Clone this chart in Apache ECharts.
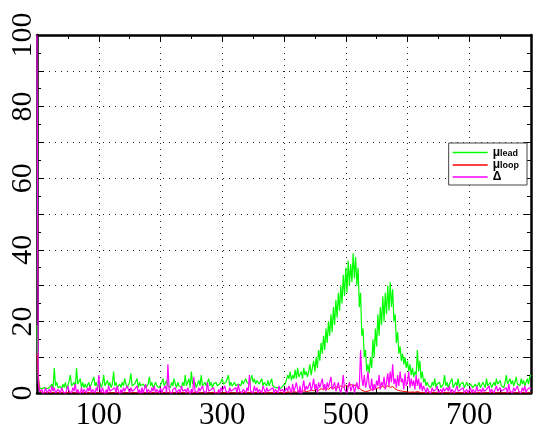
<!DOCTYPE html>
<html>
<head>
<meta charset="utf-8">
<script src="https://cdn.jsdelivr.net/npm/echarts@6/dist/echarts.min.js"></script>
<style>
  html, body { margin: 0; padding: 0; background: #fff; }
  #chart { width: 534px; height: 431px; }
</style>
</head>
<body>
<div id="chart"></div>
<script>
// Sampling steps along the x axis
const leadStep = 2;
const loopStep = 4;
const deltaStep = 2;

// mu_lead, one value every 2 units from 0 to 800
const muLead = [
  19, 4, 1.5, 1, 1.2, 1, 1.5, 1, 1.2, 1,
  1.5, 1, 2.5, 1.2, 7, 2, 3, 1.5, 1.2, 1.8,
  1, 2.5, 1.5, 3, 1.2, 2, 1.5, 5, 2, 1.5,
  3, 1.5, 7, 2.5, 2, 4, 1.5, 3, 1.5, 2.5,
  1.5, 2, 3, 1.5, 2.5, 2, 4.5, 2, 3, 1.5,
  2, 3, 1.5, 2.5, 5, 2, 1.5, 3.5, 2, 3,
  1.5, 2.5, 6, 2, 3, 1.5, 2, 2.5, 1.5, 3,
  2, 4, 2.5, 1.5, 2, 3, 5.5, 2, 1.5, 2.5,
  2, 4, 1.5, 3, 2, 1.5, 2.5, 3, 1.5, 2,
  2.5, 4.5, 2, 3, 1.5, 2, 3, 2, 2.5, 1.5,
  2, 3, 4, 2, 1.5, 3.5, 2, 2.5, 1.5, 3,
  2, 4, 2.5, 1.5, 3, 2, 2.5, 1.5, 3, 2,
  5, 2, 3, 4, 1.5, 6, 2.5, 2, 3, 1.5,
  2.5, 3.5, 2, 5, 2, 1.5, 3, 2, 2.5, 4,
  2, 3, 1.5, 2.5, 2, 3, 2, 1.5, 2.5, 2,
  4, 2.5, 2, 3, 2.5, 5, 2, 3, 2, 1.5,
  3, 2, 1.5, 2.5, 3, 2, 3.5, 2.5, 3, 4,
  3, 3.5, 2.5, 3, 5, 3, 4, 2.5, 3.5, 3,
  2.5, 3, 4, 2, 3, 2.5, 2, 3.5, 2, 2.5,
  4, 2, 2.5, 1.5, 2, 1.5, 2, 1.2, 1.5, 2,
  1.5, 2.5, 3, 5, 4, 6, 3.5, 5, 4, 6.5,
  4, 7, 4.5, 5, 6, 4, 7, 5, 6, 4.5,
  6, 8, 5, 7, 9, 6, 10, 7, 12, 9,
  14, 11, 16, 12, 18, 14, 20, 16, 22, 17,
  24, 19, 26, 21, 28, 23, 30, 25, 33, 27,
  35, 28, 37, 30, 36, 31, 39, 32, 38, 30,
  35, 24, 28, 16, 18, 10, 12, 6, 8, 5.5,
  10, 7, 15, 10, 18, 13, 22, 16, 24, 19,
  27, 20, 28, 22, 30, 23, 31, 24, 29, 20,
  22, 14, 17, 11, 13, 9, 11, 8, 10, 7,
  9, 6, 8, 5, 7, 4.5, 6, 5, 12, 6,
  9, 4, 6, 3, 4, 2, 3, 2, 2.5, 1.5,
  3, 2, 4, 1.5, 2.5, 2, 3, 1.5, 2, 2.5,
  5, 2, 3, 1.5, 2.5, 2, 4, 1.5, 2, 3,
  2, 4, 1.5, 2.5, 2, 3, 1.5, 2, 3, 2,
  1.5, 2.5, 2, 1.5, 2, 2.5, 1.5, 2, 3, 1.5,
  2, 3, 2.5, 1.5, 4, 2, 2.5, 3, 1.5, 2,
  3, 2, 4, 2.5, 2, 3.5, 2, 2.5, 1.5, 3,
  5, 2.5, 3, 4, 2.5, 3.5, 2, 3, 4.5, 2.5,
  3, 2, 4, 2.5, 3.5, 2, 3, 4, 2.5, 4.5,
  5
];

// mu_loop, one value every 4 units from 0 to 800
const muLoop = [
  11, 0.5, 0.2, 0, 0.1, 0, 0.2, 0, 0.1, 0,
  0, 0.1, 0, 0.2, 0, 0, 0.1, 0, 0, 0.2,
  0, 0.1, 0, 0, 0.1, 0, 0.2, 0, 0, 0.1,
  0, 0, 0.2, 0, 0.1, 0, 0, 0.1, 0, 0.2,
  0, 0, 0.1, 0, 0, 0.2, 0, 0.1, 0, 0,
  0.1, 0, 0.2, 0, 0, 0.1, 0, 0, 0.2, 0,
  0.1, 0, 0, 0.1, 0, 0.2, 0, 0, 0.1, 0,
  0, 0.2, 0, 0.1, 0, 0, 0.1, 0, 0.2, 0,
  0, 0.1, 0, 0, 0.2, 0, 0.1, 0, 0, 0.1,
  0, 0.2, 0, 0, 0.1, 0, 0, 0.2, 0, 0.1,
  0, 0.2, 0.3, 0.1, 0.4, 0.2, 0.5, 0.3, 0.6, 0.4,
  0.5, 0.8, 0.6, 1, 0.7, 1.2, 0.9, 1.4, 1, 1.6,
  1.2, 1.8, 1.5, 2, 1.6, 2.2, 1.8, 2.4, 2, 2.2,
  1.8, 1, 0.6, 0.4, 0.5, 0.8, 1, 1.2, 1.4, 1.6,
  1.8, 1.5, 2, 1.6, 1.8, 1.2, 0.8, 0.6, 0.5, 0.4,
  0.3, 0.2, 0.3, 0.2, 0.4, 0.2, 0.1, 0, 0.1, 0,
  0, 0.1, 0, 0.2, 0, 0, 0.1, 0, 0, 0.1,
  0, 0.2, 0, 0, 0.1, 0, 0, 0.1, 0, 0.2,
  0, 0, 0.1, 0, 0.2, 0, 0, 0.1, 0, 0,
  0.1, 0, 0.2, 0, 0, 0.1, 0, 0, 0.2, 0,
  0.1
];

// Delta, one value every 2 units from 0 to 800
const delta = [
  100, 3, 0.5, 0, 1, -0.5, 0.5, 1.5, 0, 0.5,
  1, 0, 2, 0.5, 1.5, 0, -0.5, 1, 0.5, 0,
  1.5, 0.5, 1, -0.5, 0, 2, 0.5, 1, 0, 1.5,
  0.5, 2.5, 0, 1, 0.5, -0.5, 1.5, 0, 1, 0.5,
  0, 1.5, 0.5, 2, 0, 1, 0.5, 0, 1.5, 0.5,
  5, 1, 0, 1.5, 0.5, -1, 1, 0, 2, 0.5,
  0, 1, 0.5, 1.5, 0, 2, 0.5, -0.5, 1, 0,
  1.5, 0.5, 0, 2, 1, 0, 1.5, 0.5, 0, 1,
  0.5, 2, 0, 1, -0.5, 1.5, 0, 0.5, 2.5, 0,
  1, 0.5, 0, 1.5, 0.5, 2, 0, 1, 0.5, 0,
  1.5, 0, 1, 0.5, 2, 0, 8, 1, 0, -1,
  1, 0.5, 1.5, 0, 0.5, 1, 0, 2, 0.5, 0,
  1, 0, 1.5, 0.5, -0.5, 1, 0, 4.5, 0.5, 1,
  0, 1.5, 0.5, 0, 2, 0.5, 1, 0, 3, 0.5,
  0, 1, 0.5, 1.5, 0, 0.5, -0.5, 1, 0, 1.5,
  0.5, 0, 2, 0.5, 1, 0, 1.5, 0.5, 0, 1,
  0.5, 1.5, 0, 2.5, 0.5, 1, 0, 1, 0.5, 0,
  1.5, 0.5, 5, 0.5, 1, 0, 2, 0.5, 1.5, 0,
  1, 0.5, 0, 2, 1, 0, 1.5, 0.5, 0, 1,
  0.5, 1.5, 0, 1, 0.5, 0, 2, 0.5, 0, 1,
  0, -0.5, 1.5, 0.5, 2, 1, 0, 2.5, 0.5, 1.5,
  3, 1, 0, 2, -1, 1.5, 3.5, 0.5, 2, 1,
  1.5, 3, 0.5, 2, 4, 1, 2.5, 0, 3, 1.5,
  2, 4, 1, 2.5, 0.5, 3, 1.5, 2, 4.5, 1,
  2, 3, 0.5, 1.5, 3, 1, 0, 2, 5, 1,
  1.5, 0, 2, 3, 0.5, 1, 2.5, 0, 1.5, 3,
  1, 2, 12, 4, 2, 5, 1.5, 3, 6, 2,
  1, 4, 0.5, 2.5, 1, 3.5, 2, 5, 1, 3,
  2, 4.5, 1, 3, 5.5, 2, 6, 3, 8, 2.5,
  4, 1.5, 5, 2, 6, 3, 4, 1, 5.5, 2,
  3, 6, 1.5, 4, 2, 3.5, 1, 5, 2, 4,
  1, 3, 0.5, 2, 1, 0, 1.5, 0.5, 1, 0,
  1.5, 0.5, 0, 1, 2, 0, 0.5, 1, 0, 1.5,
  0.5, 0, 1.5, 0.5, 2, 0, 1, 0.5, 0, 1,
  2, 0.5, 0, 1, 0.5, 1.5, 0, 0.5, 1, 0,
  0.5, 1.5, 0, 1, 0.5, 0, 2, 0.5, 0, 1,
  0, 1.5, 0.5, 0, 1, 0.5, 2, 0, 1, 0.5,
  0, 1, 2, 0.5, 0, 1.5, 0.5, 0, 1, 0.5,
  1.5, 0, 2.5, 0.5, 1, 0, 1.5, 0.5, 0, 2,
  0.5, 1, 0, 1.5, 0.5, 2, 0, 1, 0.5, 1.5,
  1
];

// Axis ranges and labelled ticks
const xRange = [0, 800];
const yRange = [0, 100];
const xTickLabels = [100, 300, 500, 700];
const yTickLabels = [0, 20, 40, 60, 80, 100];

const toPairs = (arr, step) => arr.map((v, i) => [i * step, v]);

const dotted = { color: '#222', width: 1, type: [1, 5] };
const frame = { show: true, onZero: false, lineStyle: { color: '#000', width: 2.5 } };
const tickIn = { show: true, inside: true, length: 7, lineStyle: { color: '#000', width: 1 } };
const minorIn = { show: true, splitNumber: 2, length: 4, lineStyle: { color: '#000', width: 1 } };

const chart = echarts.init(document.getElementById('chart'), null, { renderer: 'canvas' });

chart.setOption({
  animation: false,
  backgroundColor: '#fff',
  grid: { left: 37, right: 1.5, top: 35, bottom: 31, containLabel: false },
  legend: {
    right: 7,
    top: 143,
    orient: 'vertical',
    backgroundColor: '#fff',
    borderColor: '#444',
    borderWidth: 1,
    borderRadius: 0,
    padding: [3, 8, 2, 4],
    itemWidth: 35,
    itemHeight: 1.5,
    itemGap: 0,
    icon: 'rect',
    data: ['μlead', 'μloop', 'Δ'],
    formatter: name => {
      if (name === 'μlead') return '{m|μ}{s|lead}';
      if (name === 'μloop') return '{m|μ}{s|loop}';
      return '{m|Δ}';
    },
    textStyle: {
      fontFamily: 'Liberation Sans',
      fontWeight: 'bold',
      color: '#000',
      rich: {
        m: { fontSize: 12, lineHeight: 11, fontWeight: 'bold', fontFamily: 'Liberation Sans', color: '#000' },
        s: { fontSize: 9, lineHeight: 8, fontWeight: 'bold', fontFamily: 'Liberation Sans', color: '#000', verticalAlign: 'bottom', padding: [3, 0, 0, 0] }
      }
    }
  },
  xAxis: [
    {
      type: 'value', min: xRange[0], max: xRange[1], interval: 100,
      position: 'bottom',
      axisLine: frame, axisTick: tickIn, minorTick: minorIn,
      splitLine: { show: true, lineStyle: dotted },
      axisLabel: {
        margin: 7,
        fontFamily: 'Liberation Serif', fontSize: 31, color: '#000',
        formatter: v => (xTickLabels.indexOf(v) >= 0 ? String(v) : '')
      }
    },
    {
      type: 'value', min: xRange[0], max: xRange[1], interval: 100,
      position: 'top',
      axisLine: frame, axisTick: tickIn, minorTick: minorIn,
      splitLine: { show: false },
      axisLabel: { show: false }
    }
  ],
  yAxis: [
    {
      type: 'value', min: yRange[0], max: yRange[1], interval: 10,
      position: 'left',
      axisLine: frame, axisTick: tickIn, minorTick: minorIn,
      splitLine: { show: true, lineStyle: dotted },
      axisLabel: {
        rotate: 90, margin: -1,
        fontFamily: 'Liberation Serif', fontSize: 30, color: '#000',
        formatter: v => (yTickLabels.indexOf(v) >= 0 ? String(v) : '')
      }
    },
    {
      type: 'value', min: yRange[0], max: yRange[1], interval: 10,
      position: 'right',
      axisLine: frame, axisTick: tickIn, minorTick: minorIn,
      splitLine: { show: false },
      axisLabel: { show: false }
    }
  ],
  series: [
    {
      name: 'μlead', type: 'line', data: toPairs(muLead, leadStep),
      showSymbol: false, symbol: 'none',
      lineStyle: { color: '#00ff00', width: 1.2 }, itemStyle: { color: '#00ff00' },
      z: 2
    },
    {
      name: 'μloop', type: 'line', data: toPairs(muLoop, loopStep),
      showSymbol: false, symbol: 'none',
      lineStyle: { color: '#ff0000', width: 1 }, itemStyle: { color: '#ff0000' },
      z: 3
    },
    {
      name: 'Δ', type: 'line', data: toPairs(delta, deltaStep),
      showSymbol: false, symbol: 'none',
      lineStyle: { color: '#ff00ff', width: 1.2 }, itemStyle: { color: '#ff00ff' },
      z: 4
    }
  ]
});
</script>
</body>
</html>
